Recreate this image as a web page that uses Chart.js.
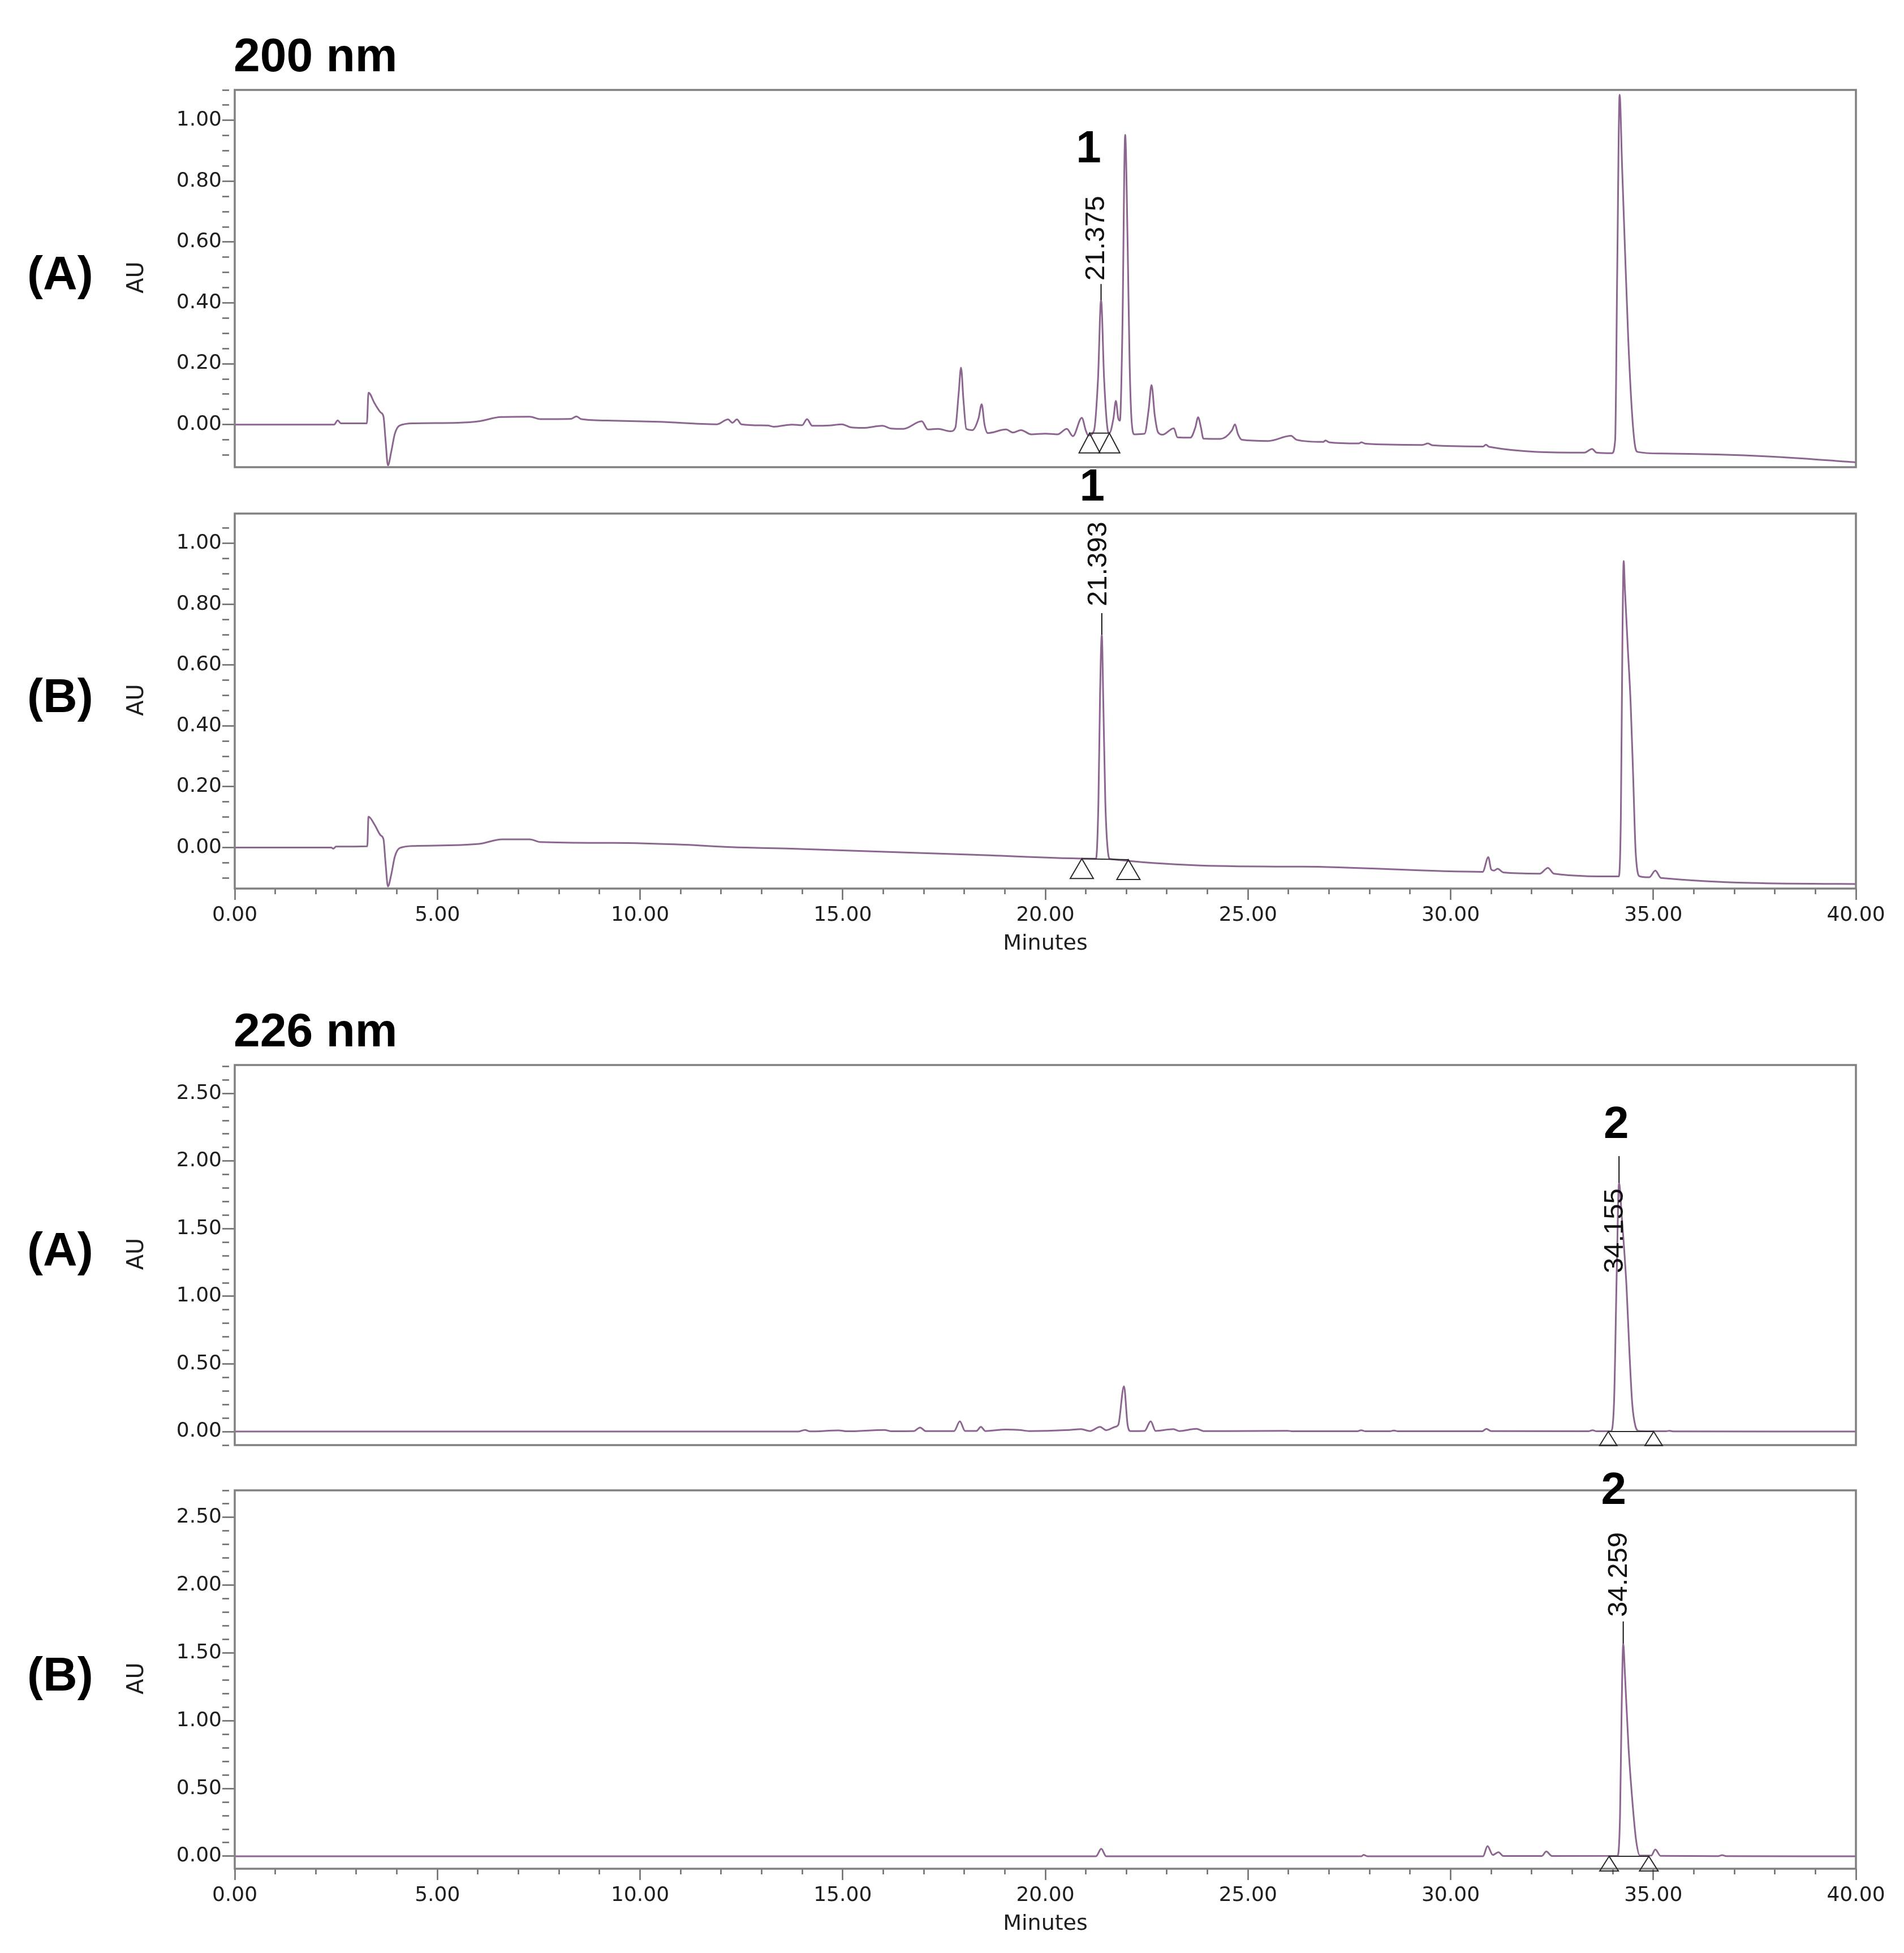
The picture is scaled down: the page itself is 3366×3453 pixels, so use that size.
<!DOCTYPE html>
<html><head><meta charset="utf-8">
<script src="https://cdn.jsdelivr.net/npm/chart.js@4.4.1/dist/chart.umd.min.js"></script>
<style>
html,body{margin:0;padding:0;background:#fff;}
#wrap{position:relative;width:3366px;height:3453px;background:#fff;overflow:hidden;}
canvas{position:absolute;left:0;}
</style></head><body>
<div id="wrap">
<canvas id="c1" width="3366" height="860" style="top:0px"></canvas>
<canvas id="c2" width="3366" height="920" style="top:800px"></canvas>
<canvas id="c3" width="3366" height="880" style="top:1720px"></canvas>
<canvas id="c4" width="3366" height="873" style="top:2580px"></canvas>
</div>
<script>
// ---------------- DATA ----------------
const xTickLabels = ['0.00','5.00','10.00','15.00','20.00','25.00','30.00','35.00','40.00'];
const yTickLabels200 = ['0.00','0.20','0.40','0.60','0.80','1.00'];
const yTickLabels226 = ['0.00','0.50','1.00','1.50','2.00','2.50'];
const wavelengths = ['200 nm', '226 nm'];
const sampleNames = ['(A)', '(B)'];

// 200 nm, sample A
const t200A = [0,2.45,2.54,2.62,3.26,3.30,3.45,3.60,3.67,3.72,3.78,3.86,3.95,4.07,4.43,5.5,6.03,6.57,7.28,7.54,8.3,8.43,8.55,9.32,10.48,11.9,12.17,12.28,12.39,12.5,13.15,13.3,13.75,
  14.0,14.12,14.25,14.67,14.98,15.2,15.5,15.98,16.2,16.5,16.95,17.1,17.35,17.66,17.78,17.86,17.92,17.98,18.05,18.2,18.35,18.43,18.5,18.58,19.03,19.2,19.4,19.65,20.0,20.3,20.53,20.68,20.9,21.0,21.06,
  21.2,21.3,21.375,21.45,21.53,21.58,21.68,21.74,21.80,21.84,21.9,21.97,22.03,22.08,22.13,22.2,22.45,22.55,22.62,22.7,22.78,22.89,23.17,23.26,23.58,23.7,23.77,23.84,23.9,24.32,24.6,24.68,24.75,24.85,
  25.5,26.06,26.2,26.86,26.91,27.0,27.73,27.8,27.9,29.3,29.44,29.55,30.8,30.87,30.95,33.3,33.49,33.6,33.98,34.06,34.11,34.17,34.23,34.29,34.38,34.47,34.55,34.62,35.2,37.9,40];
const y200A = [0,0,0.014,0.004,0.004,0.105,0.07,0.04,0.026,-0.05,-0.134,-0.09,-0.03,-0.003,0.004,0.006,0.011,0.025,0.026,0.018,0.019,0.027,0.018,0.013,0.009,0.001,0.017,0.006,0.017,0.001,-0.003,-0.007,0.0,
  -0.002,0.018,-0.004,-0.003,0.001,-0.009,-0.011,-0.004,-0.013,-0.014,0.011,-0.016,-0.014,-0.022,-0.01,0.10,0.187,0.08,-0.014,-0.018,0.02,0.067,0.0,-0.028,-0.016,-0.026,-0.018,-0.032,-0.03,-0.032,-0.014,-0.038,0.022,-0.02,-0.036,
  -0.02,0.15,0.41,0.15,-0.01,-0.028,0.02,0.078,0.02,0.013,0.3,0.952,0.6,0.2,0.01,-0.032,-0.03,0.05,0.13,0.03,-0.025,-0.033,-0.012,-0.042,-0.043,-0.01,0.024,-0.01,-0.046,-0.047,-0.02,0.001,-0.03,-0.05,
  -0.054,-0.037,-0.05,-0.057,-0.052,-0.058,-0.062,-0.058,-0.063,-0.067,-0.062,-0.068,-0.072,-0.066,-0.073,-0.092,-0.08,-0.092,-0.094,-0.05,0.5,1.084,0.85,0.62,0.29,0.05,-0.07,-0.09,-0.095,-0.105,-0.124];

// 200 nm, sample B
const t200B = [0,2.38,2.43,2.5,3.27,3.30,3.45,3.6,3.67,3.72,3.78,3.86,3.95,4.07,4.43,6.03,6.6,7.28,7.54,9.32,11.1,12.26,13.75,18.23,21.25,21.31,21.35,21.393,21.43,21.48,21.55,21.6,
  26.33,30.79,30.93,31.0,31.07,31.16,31.3,32.2,32.4,32.55,34.1,34.15,34.2,34.24,34.27,34.30,34.37,34.44,34.50,34.56,34.62,34.67,34.9,35.05,35.19,40];
const y200B = [0,0,-0.004,0.003,0.004,0.101,0.075,0.04,0.027,-0.05,-0.128,-0.09,-0.03,-0.002,0.005,0.012,0.027,0.027,0.018,0.015,0.009,0.001,-0.004,-0.024,-0.037,0.15,0.5,0.70,0.48,0.15,-0.02,-0.038,
  -0.063,-0.080,-0.032,-0.072,-0.076,-0.07,-0.082,-0.086,-0.067,-0.086,-0.095,-0.095,0.1,0.7,0.942,0.85,0.66,0.48,0.25,0.0,-0.085,-0.095,-0.098,-0.076,-0.1,-0.12];

// 226 nm, sample A
const t226A = [0,13.9,14.07,14.2,14.9,15.1,16.03,16.2,16.75,16.91,17.05,17.75,17.89,18.02,18.3,18.41,18.52,19.02,19.36,19.6,20.59,20.88,21.1,21.35,21.5,21.72,21.8,21.94,22.03,22.1,22.45,22.6,22.72,23.16,23.3,23.73,23.9,
  24.5,25.98,26.1,27.7,27.79,27.9,28.5,28.6,28.7,30.78,30.88,31.0,33.4,33.5,33.6,33.95,34.03,34.1,34.155,34.22,34.34,34.41,34.48,34.56,34.65,35.3,35.4,35.5,40];
const y226A = [0,0,0.012,0.001,0.009,0.002,0.012,0.002,0.003,0.03,0.003,0.004,0.076,0.005,0.005,0.035,0.004,0.015,0.012,0.004,0.012,0.018,0.004,0.035,0.01,0.035,0.05,0.335,0.05,0.004,0.005,0.076,0.005,0.018,0.004,0.02,0.004,
  0.003,0.006,0.002,0.002,0.01,0.002,0.002,0.008,0.002,0.002,0.02,0.003,0.002,0.01,0.002,0.002,0.2,1.2,1.84,1.6,1.07,0.6,0.21,0.04,0.005,0.002,0.006,0.001,0];

// 226 nm, sample B
const t226B = [0,21.25,21.38,21.5,27.8,27.85,27.95,30.8,30.91,31.04,31.18,31.3,32.25,32.36,32.5,34.12,34.18,34.22,34.259,34.3,34.39,34.5,34.58,34.67,34.95,35.05,35.18,36.6,36.7,36.8,40];
const y226B = [0,0,0.055,0,0,0.01,0,0,0.075,0.01,0.03,0.002,0.002,0.035,0.002,0.003,0.3,1.1,1.57,1.35,0.8,0.35,0.11,0.005,0.005,0.05,0.003,0.001,0.008,0.001,0];

// integration marks (start / end of peak)
const mark200A_t = [21.09, 21.58], mark200A_y = [-0.028, -0.028];
const mark200B_t = [20.90, 22.05], mark200B_y = [-0.037, -0.040];
const mark226A_t = [33.89, 35.01], mark226A_y = [0, 0];
const mark226B_t = [33.91, 34.89], mark226B_y = [0, 0];

// labelled peaks
const peakIds  = ['1', '1', '2', '2'];
const peakRT   = [21.375, 21.393, 34.155, 34.259];
const peakApex = [0.41, 0.70, 1.84, 1.57];

// ---------------- DRAWING ----------------
const TRACE = '#8c6590';
const AXIS = '#808080';
const TXT = '#1e1e1e';
const TICKFONT = {family:'DejaVu Sans', size:36};
Chart.defaults.font.family = 'Liberation Sans';

function pts(t, y){ return t.map((x,i)=>({x:x, y:y[i]})); }
function isMajor(v, step){ return Math.abs(v/step - Math.round(v/step)) < 1e-6; }
function lookup(labels, v){ const s = v.toFixed(2); return labels.indexOf(s) >= 0 ? s : ''; }

function makePanel(cfg){
  const plugin = {
    id:'annot'+cfg.id,
    afterDatasetsDraw(chart){
      const ctx = chart.ctx, ca = chart.chartArea, xs = chart.scales.x, ys = chart.scales.y;
      ctx.save();
      // frame
      ctx.strokeStyle = AXIS; ctx.lineWidth = 3.5;
      ctx.strokeRect(ca.left, ca.top, ca.right-ca.left, ca.bottom-ca.top);
      // integration marks
      const px = cfg.markT.map(t=>xs.getPixelForValue(t));
      const py = cfg.markY.map(v=>ys.getPixelForValue(v));
      ctx.strokeStyle = '#2a2a2a'; ctx.lineWidth = 2;
      ctx.beginPath(); ctx.moveTo(px[0],py[0]); ctx.lineTo(px[1],py[1]); ctx.stroke();
      for (let i=0;i<px.length;i++){
        ctx.beginPath();
        ctx.moveTo(px[i],py[i]);
        ctx.lineTo(px[i]-cfg.triW/2, py[i]+cfg.triH);
        ctx.lineTo(px[i]+cfg.triW/2, py[i]+cfg.triH);
        ctx.closePath(); ctx.stroke();
      }
      // peak label
      const k = cfg.peak;
      const ax = xs.getPixelForValue(peakRT[k]), ay = ys.getPixelForValue(peakApex[k]);
      ctx.strokeStyle = '#111'; ctx.lineWidth = 2;
      ctx.beginPath(); ctx.moveTo(ax, ay); ctx.lineTo(ax, ay-cfg.lineTop); ctx.stroke();
      ctx.fillStyle = '#111';
      ctx.save();
      ctx.translate(ax+cfg.textDx, ay-cfg.textBottom);
      ctx.rotate(-Math.PI/2);
      ctx.font = '49px "Liberation Sans"';
      ctx.textAlign = 'left'; ctx.textBaseline = 'middle';
      ctx.fillText(peakRT[k].toFixed(3), 0, 0);
      ctx.restore();
      ctx.font = 'bold 80px "Liberation Sans"';
      ctx.textAlign = 'center'; ctx.textBaseline = 'middle';
      ctx.fillStyle = '#000';
      ctx.fillText(peakIds[k], ax+cfg.numDx, ay-cfg.numUp);
      // sample label and AU
      const cy = (ca.top+ca.bottom)/2;
      ctx.font = 'bold 84px "Liberation Sans"';
      ctx.textAlign = 'left'; ctx.textBaseline = 'middle';
      ctx.fillText(cfg.sample, 48, cy-4);
      ctx.save();
      ctx.translate(243, cy-2); ctx.rotate(-Math.PI/2);
      ctx.font = '40px "DejaVu Sans"'; ctx.fillStyle = TXT;
      ctx.textAlign = 'center'; ctx.textBaseline = 'middle';
      ctx.fillText('AU', 0, 0);
      ctx.restore();
      if (cfg.title){
        ctx.font = 'bold 84px "Liberation Sans"'; ctx.fillStyle = '#000';
        ctx.textAlign = 'left'; ctx.textBaseline = 'alphabetic';
        ctx.fillText(cfg.title, ca.left-2, ca.top-33);
      }
      if (cfg.showX){
        ctx.font = '38px "DejaVu Sans"'; ctx.fillStyle = TXT;
        ctx.textAlign = 'center'; ctx.textBaseline = 'middle';
        ctx.fillText('Minutes', (ca.left+ca.right)/2, ca.bottom+98);
      }
      ctx.restore();
    }
  };
  return new Chart(document.getElementById(cfg.canvas), {
    type:'line',
    data:{datasets:[{data:pts(cfg.t, cfg.y), borderColor:TRACE, borderWidth:3, pointRadius:0, cubicInterpolationMode:'monotone', fill:false}]},
    options:{
      responsive:false, animation:false, events:[],
      layout:{padding:{left:0, right:85, top:cfg.padTop, bottom:cfg.padBottom}},
      plugins:{legend:{display:false}, tooltip:{enabled:false}},
      scales:{
        x:{type:'linear', min:0, max:40, display:cfg.showX,
           ticks:{stepSize:1, autoSkip:false, maxRotation:0, font:TICKFONT, color:TXT, padding:6,
                  callback:(v)=> isMajor(v,5) ? lookup(xTickLabels, v) : ''},
           grid:{drawOnChartArea:false, drawTicks:true, tickLength:20, tickWidth:2.5, tickColor:'#6a6a6a',
                 tickBorderDash:(c)=> (c.tick && !isMajor(c.tick.value,5)) ? [10,200] : []},
           border:{display:false},
           afterFit:(s)=>{ s.height = cfg.xH; }},
        y:{type:'linear', min:cfg.ymin, max:cfg.ymax,
           ticks:{stepSize:cfg.minor, autoSkip:false, includeBounds:false, font:TICKFONT, color:TXT, padding:1,
                  callback:(v)=> isMajor(v,cfg.major) ? lookup(cfg.yLabels, v) : ''},
           grid:{drawOnChartArea:false, drawTicks:true, tickLength:22, tickWidth:2.5, tickColor:'#6a6a6a',
                 tickBorderDash:(c)=> (c.tick && !isMajor(c.tick.value,cfg.major)) ? [12,200] : []},
           border:{display:false},
           afterFit:(s)=>{ s.width = 415; }}
      }
    },
    plugins:[plugin]
  });
}

makePanel({id:1, canvas:'c1', t:t200A, y:y200A, ymin:-0.14, ymax:1.10, minor:0.05, major:0.2, yLabels:yTickLabels200,
  padTop:159, padBottom:34, showX:false, xH:0, title:wavelengths[0], sample:sampleNames[0],
  markT:mark200A_t, markY:mark200A_y, triW:37, triH:35,
  peak:0, lineTop:28, textBottom:34, textDx:-8, numDx:-22, numUp:265});
makePanel({id:2, canvas:'c2', t:t200B, y:y200B, ymin:-0.135, ymax:1.098, minor:0.05, major:0.2, yLabels:yTickLabels200,
  padTop:108, padBottom:0, showX:true, xH:149, title:null, sample:sampleNames[1],
  markT:mark200B_t, markY:mark200B_y, triW:41, triH:35,
  peak:1, lineTop:38, textBottom:50, textDx:-5, numDx:-17, numUp:259});
makePanel({id:3, canvas:'c3', t:t226A, y:y226A, ymin:-0.10, ymax:2.71, minor:0.1, major:0.5, yLabels:yTickLabels226,
  padTop:163, padBottom:45, showX:false, xH:0, title:wavelengths[1], sample:sampleNames[0],
  markT:mark226A_t, markY:mark226A_y, triW:31, triH:25,
  peak:2, lineTop:47, textBottom:-160, textDx:-7, numDx:-5, numUp:101});
makePanel({id:4, canvas:'c4', t:t226B, y:y226B, ymin:-0.092, ymax:2.70, minor:0.1, major:0.5, yLabels:yTickLabels226,
  padTop:55, padBottom:0, showX:true, xH:149, title:null, sample:sampleNames[1],
  markT:mark226B_t, markY:mark226B_y, triW:33, triH:26,
  peak:3, lineTop:39, textBottom:47, textDx:-7, numDx:-17, numUp:269});
</script>
</body></html>
